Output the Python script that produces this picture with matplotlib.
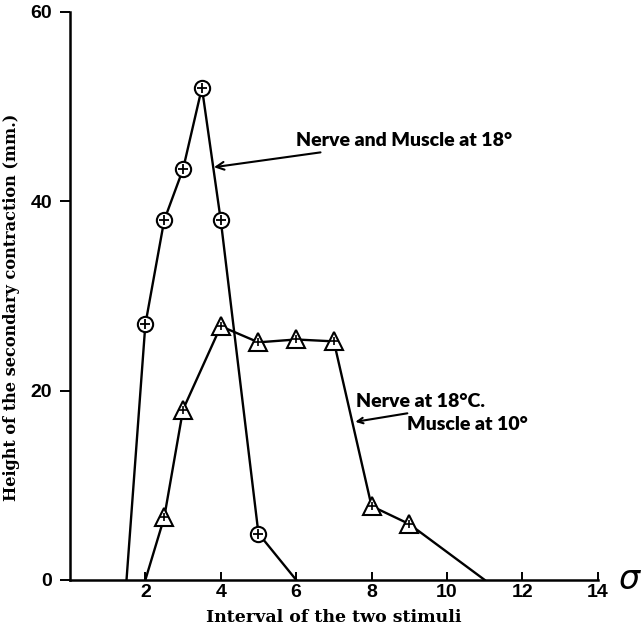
import matplotlib.pyplot as plt

# data
x_both = [1.5, 2, 2.5, 3, 3.5, 4, 5, 6]
y_both = [0, 27, 38, 43.4, 52, 38, 4.9, 0]
x_cold = [2, 2.5, 3, 4, 5, 6, 7, 8, 9, 11]
y_cold = [0, 6.6, 18, 26.8, 25.1, 25.4, 25.2, 7.8, 5.9, 0]
xticks = [2, 4, 6, 8, 10, 12, 14]
yticks = [0, 20, 40, 60]

fig = plt.figure(figsize=(6.42, 6.31), dpi=100)
ax = fig.add_axes([0.109, 0.081, 0.822, 0.9])

serif = dict(family='DejaVu Serif', fontweight='bold')
hand = dict(family='Lato', fontweight='heavy', fontsize=14)

# circles: line, then markers only on the measured points
ax.plot(x_both, y_both, color='black', lw=1.7, zorder=2)
ax.plot(x_both[1:-1], y_both[1:-1], 'o', ms=11, mfc='white', mec='black', mew=1.5, zorder=3)
ax.plot(x_both[1:-1], y_both[1:-1], '+', ms=7, mec='black', mew=1.3, zorder=4)

# triangles
ax.plot(x_cold, y_cold, color='black', lw=1.7, zorder=2)
ax.plot(x_cold[1:-1], y_cold[1:-1], '^', ms=13, mfc='white', mec='black', mew=1.5, zorder=3)
ax.plot(x_cold[1:-1], y_cold[1:-1], '+', ms=6, mec='black', mew=1.2, zorder=4)

ax.set_xlim(0, 14)
ax.set_ylim(0, 60)
ax.set_xticks(xticks)
ax.set_yticks(yticks)
for s in ['top', 'right']:
    ax.spines[s].set_visible(False)
for s in ['left', 'bottom']:
    ax.spines[s].set_linewidth(1.8)
ax.tick_params(axis='x', direction='in', length=6, width=1.4, labelsize=14, pad=3)
ax.tick_params(axis='y', direction='out', length=7, width=1.4, labelsize=14, pad=6)
for lab in ax.get_xticklabels() + ax.get_yticklabels():
    lab.set_fontweight('bold')
    lab.set_family('Liberation Sans')

ax.set_xlabel('Interval of the two stimuli', labelpad=6, fontsize=12.5, **serif)
ax.set_ylabel('Height of the secondary contraction (mm.)', fontsize=11.6, **serif)
ax.yaxis.set_label_coords(-0.095, 0.48)

ax.text(14.55, 0, r'$\sigma$', fontsize=24, va='center', ha='left', clip_on=False)

ax.annotate('Nerve and Muscle at 18°', xy=(3.82, 43.6), xytext=(6.0, 46.4),
            va='center', ha='left',
            arrowprops=dict(arrowstyle='->', lw=1.5, color='black', shrinkA=2, shrinkB=0),
            **hand)
ax.annotate('', xy=(7.57, 16.7), xytext=(8.95, 17.6),
            arrowprops=dict(arrowstyle='->', lw=1.5, color='black', shrinkA=0, shrinkB=0))
ax.text(7.6, 18.9, 'Nerve at 18°C.', va='center', ha='left', **hand)
ax.text(8.95, 16.4, 'Muscle at 10°', va='center', ha='left', **hand)

fig.savefig('out.png', dpi=100)
